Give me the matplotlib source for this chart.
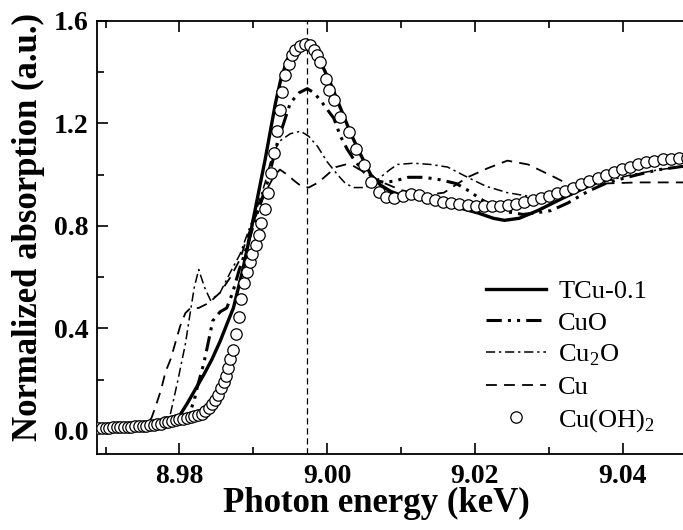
import numpy as np
import matplotlib
matplotlib.use("Agg")
import matplotlib.pyplot as plt
from matplotlib.ticker import MultipleLocator

# Cu K-edge XANES spectra (energy in keV, normalized absorption)
tcu_e = [8.9690, 8.9730, 8.9760, 8.9775, 8.9785, 8.9798, 8.9810, 8.9821, 8.9833, 8.9844,
         8.9855, 8.9866, 8.9873, 8.9885, 8.9896, 8.9907, 8.9916, 8.9923, 8.9930, 8.9937,
         8.9946, 8.9955, 8.9962, 8.9968, 8.9977, 8.9984, 8.9991, 9.0004, 9.0018, 9.0032,
         9.0045, 9.0059, 9.0072, 9.0086, 9.0100, 9.0117, 9.0140, 9.0160, 9.0180, 9.0205,
         9.0225, 9.0240, 9.0260, 9.0285, 9.0320, 9.0350, 9.0380, 9.0410, 9.0440, 9.0465,
         9.0500]
tcu_a = [0.010, 0.012, 0.015, 0.020, 0.028, 0.050, 0.105, 0.160, 0.220, 0.280,
         0.350, 0.430, 0.480, 0.620, 0.770, 0.930, 1.060, 1.170, 1.280, 1.370,
         1.450, 1.485, 1.500, 1.505, 1.490, 1.470, 1.440, 1.360, 1.260, 1.160,
         1.080, 1.000, 0.960, 0.935, 0.920, 0.910, 0.900, 0.885, 0.870, 0.850,
         0.830, 0.822, 0.830, 0.860, 0.910, 0.950, 0.990, 1.030, 1.055, 1.068,
         1.080]

cuo_e = [8.9690, 8.9740, 8.9770, 8.9790, 8.9805, 8.9815, 8.9820, 8.9824, 8.9833, 8.9840,
         8.9845, 8.9855, 8.9864, 8.9872, 8.9881, 8.9887, 8.9903, 8.9919, 8.9925, 8.9933,
         8.9950, 8.9962, 8.9973, 8.9982, 8.9991, 9.0009, 9.0018, 9.0027, 9.0036, 9.0050,
         9.0063, 9.0077, 9.0090, 9.0110, 9.0131, 9.0154, 9.0175, 9.0190, 9.0208, 9.0225,
         9.0244, 9.0265, 9.0280, 9.0303, 9.0326, 9.0353, 9.0380, 9.0420, 9.0450, 9.0500]
cuo_a = [0.010, 0.013, 0.018, 0.030, 0.045, 0.080, 0.120, 0.170, 0.265, 0.360,
         0.430, 0.465, 0.480, 0.540, 0.630, 0.680, 0.830, 0.970, 1.040, 1.130,
         1.280, 1.320, 1.336, 1.320, 1.290, 1.220, 1.150, 1.100, 1.060, 1.010,
         0.980, 0.970, 0.975, 0.990, 0.990, 0.980, 0.965, 0.940, 0.905, 0.875,
         0.855, 0.845, 0.850, 0.860, 0.890, 0.935, 0.970, 1.000, 1.020, 1.040]

cu2o_e = [8.9690, 8.9740, 8.9765, 8.9778, 8.9788, 8.9798, 8.9808, 8.9815, 8.9820, 8.9826,
          8.9834, 8.9842, 8.9855, 8.9869, 8.9882, 8.9892, 8.9905, 8.9916, 8.9925, 8.9935,
          8.9950, 8.9964, 8.9975, 8.9987, 9.0000, 9.0014, 9.0025, 9.0036, 9.0050, 9.0060,
          9.0072, 9.0085, 9.0095, 9.0117, 9.0140, 9.0163, 9.0190, 9.0215, 9.0244, 9.0285,
          9.0326, 9.0353, 9.0385, 9.0412, 9.0450, 9.0500]
cu2o_a = [0.010, 0.013, 0.020, 0.035, 0.070, 0.200, 0.340, 0.470, 0.560, 0.630,
          0.560, 0.510, 0.540, 0.620, 0.690, 0.770, 0.870, 0.970, 1.070, 1.130,
          1.160, 1.170, 1.150, 1.110, 1.050, 1.000, 0.965, 0.950, 0.950, 0.960,
          0.990, 1.020, 1.040, 1.045, 1.040, 1.030, 0.990, 0.955, 0.930, 0.910,
          0.915, 0.960, 0.980, 1.000, 1.020, 1.038]

cu_e = [8.9690, 8.9730, 8.9755, 8.9762, 8.9767, 8.9775, 8.9781, 8.9788, 8.9794, 8.9801,
        8.9808, 8.9815, 8.9826, 8.9840, 8.9855, 8.9869, 8.9882, 8.9892, 8.9905, 8.9916,
        8.9928, 8.9936, 8.9946, 8.9956, 8.9965, 8.9975, 8.9988, 9.0000, 9.0012, 9.0025,
        9.0035, 9.0050, 9.0075, 9.0100, 9.0125, 9.0145, 9.0158, 9.0190, 9.0217, 9.0244,
        9.0272, 9.0308, 9.0335, 9.0367, 9.0420, 9.0500]
cu_a = [0.010, 0.013, 0.025, 0.050, 0.090, 0.160, 0.230, 0.280, 0.340, 0.410,
        0.460, 0.480, 0.480, 0.500, 0.540, 0.600, 0.670, 0.760, 0.850, 0.930,
        0.995, 1.020, 1.000, 0.975, 0.955, 0.950, 0.970, 1.000, 1.030, 1.040,
        1.035, 1.010, 0.970, 0.940, 0.925, 0.925, 0.930, 0.990, 1.025, 1.055,
        1.040, 0.990, 0.950, 0.965, 0.970, 0.970]

cuoh2_e = [8.9690, 8.9695, 8.9700, 8.9705, 8.9710, 8.9715, 8.9720, 8.9725, 8.9730, 8.9735,
           8.9740, 8.9745, 8.9750, 8.9755, 8.9760, 8.9765, 8.9770, 8.9775, 8.9780, 8.9785,
           8.9790, 8.9795, 8.9800, 8.9805, 8.9810, 8.9815, 8.9820, 8.9825, 8.9830, 8.9835,
           8.9840, 8.9844, 8.9848, 8.9852, 8.9856, 8.9860, 8.9863, 8.9866, 8.9869, 8.9872,
           8.9876, 8.9880, 8.9883, 8.9888, 8.9891, 8.9895, 8.9898, 8.9903, 8.9907, 8.9911,
           8.9916, 8.9920, 8.99245, 8.99275, 8.9932, 8.99366, 8.99389, 8.99434, 8.99479, 8.99525,
           8.9957, 8.99637, 8.99705, 8.99764, 8.99818, 8.99864, 8.99909, 8.99977, 9.0003, 9.00089,
           9.0018, 9.00293, 9.00384, 9.00497, 9.00587, 9.0070, 9.0080, 9.0091, 9.0102, 9.0113,
           9.0124, 9.0135, 9.0146, 9.0157, 9.0168, 9.0179, 9.0190, 9.0201, 9.0212, 9.0223,
           9.0234, 9.0245, 9.0256, 9.0267, 9.0278, 9.0289, 9.0300, 9.0311, 9.0322, 9.0333,
           9.0344, 9.0355, 9.0366, 9.0377, 9.0388, 9.0399, 9.0410, 9.0421, 9.0432, 9.0443,
           9.0454, 9.0465, 9.0476, 9.0487]
cuoh2_a = [0.012, 0.012, 0.013, 0.013, 0.014, 0.014, 0.015, 0.015, 0.016, 0.017,
           0.018, 0.019, 0.020, 0.021, 0.022, 0.024, 0.026, 0.029, 0.033, 0.036,
           0.039, 0.042, 0.045, 0.048, 0.050, 0.053, 0.057, 0.062, 0.068, 0.077,
           0.090, 0.105, 0.122, 0.142, 0.166, 0.190, 0.215, 0.245, 0.280, 0.315,
           0.380, 0.446, 0.515, 0.577, 0.620, 0.660, 0.690, 0.725, 0.764, 0.810,
           0.866, 0.930, 1.005, 1.083, 1.170, 1.251, 1.323, 1.388, 1.434, 1.466,
           1.485, 1.501, 1.509, 1.505, 1.485, 1.466, 1.440, 1.375, 1.330, 1.290,
           1.225, 1.167, 1.102, 1.037, 0.972, 0.933, 0.913, 0.910, 0.918, 0.925,
           0.920, 0.910, 0.900, 0.893, 0.888, 0.884, 0.880, 0.878, 0.877, 0.877,
           0.878, 0.882, 0.887, 0.893, 0.900, 0.908, 0.917, 0.927, 0.938, 0.950,
           0.963, 0.975, 0.987, 0.999, 1.010, 1.021, 1.031, 1.040, 1.048, 1.055,
           1.060, 1.063, 1.064, 1.065]

edge_pos = 8.9973

plt.rcParams['font.family'] = 'Liberation Serif'
plt.rcParams['mathtext.fontset'] = 'custom'
plt.rcParams['mathtext.rm'] = 'Liberation Serif'

fig = plt.figure(figsize=(6.83, 5.30), dpi=100)
# the frame runs a little past the right edge of the canvas
ax = fig.add_axes([97/683, 76/530, 598/683, 433/530])

ax.plot(tcu_e, tcu_a, color='black', lw=2.4, label='TCu-0.1', zorder=3)
ax.plot(cuo_e, cuo_a, color='black', lw=2.2, ls=(0, (5, 2, 1, 2, 1, 2)), label='CuO', zorder=3)
ax.plot(cu2o_e, cu2o_a, color='black', lw=1.1, ls=(0, (6, 2.5, 1.5, 2.5)),
        label='Cu$_\\mathrm{2}$O', zorder=3)
ax.plot(cu_e, cu_a, color='black', lw=1.3, ls=(0, (6, 4)), label='Cu', zorder=3)
ax.plot(cuoh2_e, cuoh2_a, ls='none', marker='o', ms=8.2, mfc='white', mec='black',
        mew=0.9, label='Cu(OH)$_\\mathrm{2}$', zorder=4)

ax.axvline(edge_pos, color='black', lw=0.9, ls=(0, (5, 3)), zorder=2)

ax.set_xlim(8.96883, 9.0498)
ax.set_ylim(-0.09, 1.6)
ax.xaxis.set_major_locator(MultipleLocator(0.02))
ax.xaxis.set_minor_locator(MultipleLocator(0.01))
ax.yaxis.set_major_locator(MultipleLocator(0.4))
ax.yaxis.set_minor_locator(MultipleLocator(0.2))
ax.xaxis.set_major_formatter(plt.FormatStrFormatter('%.2f'))
ax.yaxis.set_major_formatter(plt.FormatStrFormatter('%.1f'))
ax.tick_params(which='both', direction='in', top=True, right=True, width=1.2)
ax.tick_params(which='major', length=8, labelsize=20)
ax.tick_params(axis='x', which='major', pad=7)
ax.tick_params(axis='y', which='major', pad=6)
ax.tick_params(which='minor', length=5)
for lab in ax.get_xticklabels() + ax.get_yticklabels():
    lab.set_fontweight('bold')
for sp in ax.spines.values():
    sp.set_linewidth(1.3)

ax.set_xlabel('Photon energy (keV)', fontsize=25, fontweight='bold')
ax.set_ylabel('Normalized absorption (a.u.)', fontsize=25, fontweight='bold')
ax.xaxis.set_label_coords(0.468, -0.076)
ax.yaxis.set_label_coords(-0.087, 0.524)

ax.legend(loc='lower left', bbox_to_anchor=(0.65, 0.046), frameon=False, fontsize=19,
          handlelength=2.3, handletextpad=0.45, labelspacing=0.3, numpoints=1,
          borderaxespad=0.0, borderpad=0.0)

fig.savefig('out.png', dpi=100)
